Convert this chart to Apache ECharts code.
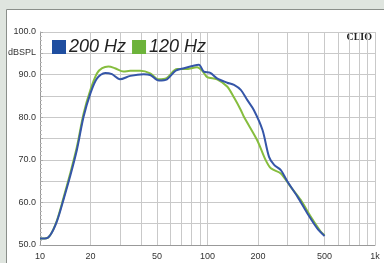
<!DOCTYPE html>
<html>
<head>
<meta charset="utf-8">
<script src="https://cdn.jsdelivr.net/npm/echarts@6/dist/echarts.min.js"></script>
<style>
  html, body { margin: 0; padding: 0; background: #dfe5df; }
  #chart { width: 384px; height: 263px; }
</style>
</head>
<body>
<div id="chart"></div>
<script>
// frequency response, Hz -> dB SPL
const freq200 = [10, 10.7, 11.5, 12.6, 13.8, 15.1, 16.6, 18.2, 20, 21.9, 24.5, 26.9, 30, 34.6, 41.6, 45.5, 51.2, 57.3, 64.5, 72.4, 81, 88.8, 95, 104, 114, 131, 144, 158, 173, 189, 213, 233, 250, 274, 300, 345, 395, 452, 500]
const db200 = [51.5, 51.5, 52.3, 55.5, 60.6, 66.0, 72.3, 80.1, 85.6, 89.1, 90.4, 90.1, 88.9, 89.7, 90.1, 89.9, 88.6, 88.9, 90.9, 91.5, 92.0, 92.3, 90.7, 90.4, 89.1, 88.1, 87.6, 86.4, 84.0, 81.7, 77.0, 70.7, 68.8, 67.6, 64.9, 61.3, 57.4, 53.9, 52.1]

const freq120 = [10, 10.7, 11.5, 12.6, 13.8, 15.1, 16.6, 18.2, 20, 21.9, 23.5, 25.6, 28, 31.5, 34.6, 39.7, 45.5, 51, 57, 65.8, 74, 86.6, 93, 99.5, 114, 131, 144, 158, 165, 198, 222, 239, 274, 313, 360, 414, 475, 500]
const db120 = [51.5, 51.5, 52.3, 55.7, 61.0, 66.6, 73.0, 80.8, 86.4, 90.3, 91.5, 91.9, 91.5, 90.7, 90.9, 90.9, 90.3, 88.9, 89.2, 91.3, 91.3, 91.7, 90.9, 89.4, 88.9, 87.2, 84.6, 81.7, 80.1, 74.6, 70.0, 68.0, 66.8, 63.7, 60.6, 56.6, 53.1, 52.3]

const xGrid = [10, 20, 30, 40, 50, 60, 70, 80, 90, 100, 200, 300, 400, 500, 600, 700, 800, 900, 1000]
const xLabels = [10, 20, 50, 100, 200, 500, 1000]

const chart = echarts.init(document.getElementById('chart'))

const pairs = (f, d) => f.map((v, i) => [v, d[i]])

chart.setOption({
    animation: false,
    backgroundColor: '#dfe5df',
    textStyle: { fontFamily: 'Liberation Sans, Arial, sans-serif' },
    graphic: [
        {
            type: 'rect', z: -10, silent: true,
            shape: { x: 6.5, y: 9.5, width: 400, height: 300 },
            style: { fill: '#ffffff', stroke: '#8a8f8a', lineWidth: 1 }
        },
        {
            type: 'text', left: 8, top: 48,
            style: { text: 'dBSPL', fill: '#333', font: '9px Liberation Sans, Arial, sans-serif' }
        },
        {
            type: 'text', right: 12, top: 32,
            style: { text: 'CLIO', fill: '#222', font: 'bold 10px Liberation Serif, serif' }
        }
    ],
    legend: {
        left: 47, top: 33,
        icon: 'rect',
        itemWidth: 14, itemHeight: 14, itemGap: 6,
        textStyle: { fontSize: 18, fontStyle: 'italic', color: '#222', padding: [0, 0, 0, -2] },
        data: ['200 Hz', '120 Hz']
    },
    grid: { left: 40, top: 32, right: 9, bottom: 18 },
    xAxis: {
        type: 'log', logBase: 10, min: 10, max: 1000,
        axisLine: { show: true, lineStyle: { color: '#999' } },
        axisTick: { show: false, customValues: xGrid },
        axisLabel: { customValues: xLabels, color: '#333', fontSize: 9, margin: 7,
            formatter: v => v >= 1000 ? '1k' : String(v) },
        splitLine: { show: true, lineStyle: { color: '#c9c9c9', width: 1 } }
    },
    yAxis: {
        type: 'value', min: 50, max: 100, interval: 5,
        axisLine: { show: true, lineStyle: { color: '#999' } },
        axisTick: { show: true, inside: true, length: 3, lineStyle: { color: '#aaa' } },
        minorTick: { show: true, splitNumber: 5, length: 2, lineStyle: { color: '#bbb' } },
        axisLabel: { color: '#333', fontSize: 9, margin: 4,
            formatter: v => v % 10 === 0 ? v.toFixed(1) : '' },
        splitLine: { show: true, lineStyle: { color: '#c9c9c9', width: 1 } }
    },
    series: [
        {
            name: '200 Hz', type: 'line', data: pairs(freq200, db200),
            smooth: 0.3, showSymbol: false, z: 3,
            itemStyle: { color: '#1f4ea0' },
            lineStyle: { width: 2, color: '#3556a8' }
        },
        {
            name: '120 Hz', type: 'line', data: pairs(freq120, db120),
            smooth: 0.3, showSymbol: false, z: 2,
            itemStyle: { color: '#6cb33a' },
            lineStyle: { width: 2, color: '#86bd3e' }
        }
    ]
})
</script>
</body>
</html>
